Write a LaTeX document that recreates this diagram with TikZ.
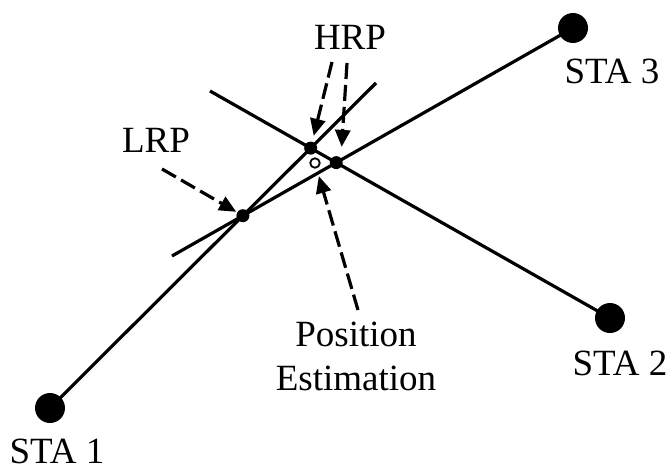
\documentclass[tikz,border=0pt]{standalone}
\usepackage{fontspec}
\setmainfont{Liberation Serif}
\usepackage{xcolor}
\usepackage{tikz}
\usetikzlibrary{arrows.meta, intersections}

\begin{document}
\begin{tikzpicture}[
  x=1pt, y=-1pt,
  sta/.style={circle, fill=black, minimum size=30pt, inner sep=0pt},
  crossdot/.style={circle, fill=black, minimum size=13pt, inner sep=0pt},
  estdot/.style={circle, draw, fill=white, line width=1.8pt, minimum size=9.5pt, inner sep=0pt},
  lbl/.style={font=\fontsize{37}{44}\selectfont, inner sep=0pt},
  bearing/.style={line width=3.2pt},
  arr/.style={-{Triangle[length=17pt, width=15pt]}, line width=3.2pt, dash pattern=on 16pt off 6pt}
]
\useasboundingbox (0,0) rectangle (667,466);

\node[sta] (sta1) at (50,408) {};
\node[sta] (sta2) at (610,318) {};
\node[sta] (sta3) at (573,28) {};

\coordinate (end1) at (376,83);
\coordinate (end2) at (210,91);
\coordinate (end3) at (172,256);

\draw[bearing, name path=b1] (sta1.center) -- (end1);
\draw[bearing, name path=b2] (sta2.center) -- (end2);
\draw[bearing, name path=b3] (sta3.center) -- (end3);

\path[name intersections={of=b1 and b2, by=x12}];
\path[name intersections={of=b2 and b3, by=x23}];
\path[name intersections={of=b1 and b3, by=x13}];

\node[crossdot] (hrpa) at (x12) {};
\node[crossdot] (hrpb) at (x23) {};
\node[crossdot] (lrpdot) at (x13) {};
\node[estdot] (estpt) at (315,163) {};

\node[lbl, anchor=base] (lbl1) at (57,463) {STA 1};
\node[lbl, anchor=base] (lbl2) at (620,375) {STA 2};
\node[lbl, anchor=base] (lbl3) at (612,83) {STA 3};
\node[lbl, anchor=base] (hrp) at (350,49) {HRP};
\node[lbl, anchor=base] (lrp) at (156,152) {LRP};
\node[lbl, align=center, anchor=north] (estlbl) at (356,322) {Position\\Estimation};

\coordinate (lrptail) at (162,169);
\coordinate (hrptailA) at (332,62);
\coordinate (hrptailB) at (347,63);
\coordinate (esttail) at (358,310);

\draw[arr, shorten >=1pt] (lrptail) -- (lrpdot);
\draw[arr, shorten >=6pt] (hrptailA) -- (hrpa);
\draw[arr, shorten >=11pt] (hrptailB) -- (hrpb.north east);
\draw[arr, shorten >=8pt] (esttail) -- (estpt);

\end{tikzpicture}
\end{document}
